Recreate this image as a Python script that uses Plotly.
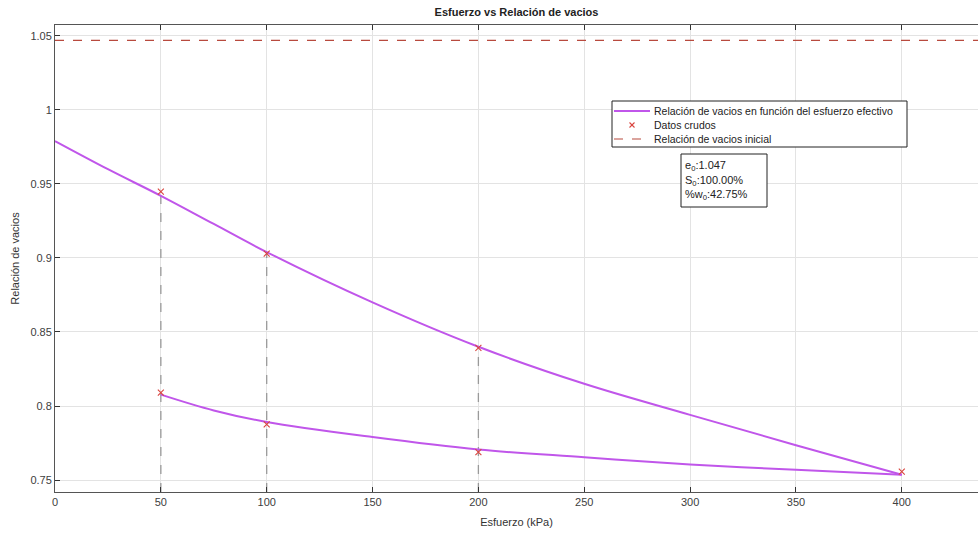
import plotly.graph_objects as go

# ---- data ----
curve_load_x = [0, 25, 50, 75, 100, 150, 200, 250, 300, 350, 400]
curve_load_y = [0.979, 0.960, 0.942, 0.923, 0.904, 0.870, 0.840, 0.815, 0.794, 0.7735, 0.7536]

curve_unload_x = [50, 75, 100, 150, 200, 250, 300, 350, 400]
curve_unload_y = [0.8077, 0.797, 0.7892, 0.779, 0.7706, 0.7654, 0.7605, 0.7569, 0.7536]

raw_x = [50, 100, 200, 400, 200, 100, 50]
raw_y = [0.9449, 0.903, 0.8393, 0.7556, 0.7688, 0.7876, 0.809]

drop_x = [50, 100, 200]
drop_top = [0.9449, 0.903, 0.8393]

e0 = 1.047
S0 = "100.00%"
w0 = "42.75%"

legend_labels = ["Relación de vacios en función del esfuerzo efectivo",
                 "Datos crudos",
                 "Relación de vacios inicial"]

y_ticks = [0.75, 0.8, 0.85, 0.9, 0.95, 1.0, 1.05]
y_ticklabels = ["0.75", "0.8", "0.85", "0.9", "0.95", "1", "1.05"]
x_ticks = [0, 50, 100, 150, 200, 250, 300, 350, 400]

x_range = [0, 436]
y_range = [0.7419, 1.0574]

PURPLE = "#C056EA"
RED = "#D9453F"
DASHRED = "#B84A3E"
FONT = "Liberation Sans, Arial, sans-serif"

W, H = 978, 535
ML, MR, MT, MB = 55, 0, 25, 43
PW, PH = W - ML - MR, H - MT - MB


def px(x):
    return (x - ML) / PW


def py(y):
    return 1 - (y - MT) / PH


fig = go.Figure()

# vertical dashed guide lines
vx, vy = [], []
for x, yt in zip(drop_x, drop_top):
    vx += [x, x, None]
    vy += [y_range[0], yt, None]
fig.add_trace(go.Scatter(x=vx, y=vy, mode="lines", showlegend=False,
                         line=dict(color="#9A9A9A", width=1.3, dash="dash"),
                         hoverinfo="skip"))

fig.add_trace(go.Scatter(x=curve_load_x, y=curve_load_y, mode="lines",
                         line=dict(color=PURPLE, width=2, shape="spline"),
                         name=legend_labels[0], showlegend=False))
fig.add_trace(go.Scatter(x=curve_unload_x, y=curve_unload_y, mode="lines",
                         line=dict(color=PURPLE, width=2, shape="spline"),
                         showlegend=False))
fig.add_trace(go.Scatter(x=raw_x, y=raw_y, mode="markers",
                         marker=dict(symbol="x-thin", size=6, color=RED,
                                     line=dict(color=RED, width=1.1)),
                         name=legend_labels[1], showlegend=False))
fig.add_trace(go.Scatter(x=[x_range[0], x_range[1]], y=[e0, e0], mode="lines",
                         line=dict(color=DASHRED, width=1.2, dash="dash"),
                         name=legend_labels[2], showlegend=False))

# ---- legend box drawn by hand (compact like the reference) ----
shapes = []
shapes.append(dict(type="rect", xref="paper", yref="paper", layer="above",
                   x0=px(612), x1=px(907), y0=py(147), y1=py(101),
                   line=dict(color="#222", width=1), fillcolor="white"))
rows = [111, 125, 139]
shapes.append(dict(type="line", xref="paper", yref="paper", layer="above",
                   x0=px(614), x1=px(650), y0=py(rows[0]), y1=py(rows[0]),
                   line=dict(color=PURPLE, width=2)))
shapes.append(dict(type="line", xref="paper", yref="paper", layer="above",
                   x0=px(614), x1=px(650), y0=py(rows[2]), y1=py(rows[2]),
                   line=dict(color=DASHRED, width=1.2, dash="dash")))
for (a, b) in [((-2.5, -2.5), (2.5, 2.5)), ((-2.5, 2.5), (2.5, -2.5))]:
    shapes.append(dict(type="line", xref="paper", yref="paper", layer="above",
                       x0=px(632 + a[0]), x1=px(632 + b[0]),
                       y0=py(rows[1] + a[1]), y1=py(rows[1] + b[1]),
                       line=dict(color=RED, width=1.1)))
# info box
shapes.append(dict(type="rect", xref="paper", yref="paper", layer="above",
                   x0=px(681), x1=px(767), y0=py(207), y1=py(154),
                   line=dict(color="#222", width=1), fillcolor="white"))

for lab, ry in zip(legend_labels, rows):
    fig.add_annotation(xref="paper", yref="paper", x=px(652), y=py(ry),
                       xanchor="left", yanchor="middle", showarrow=False,
                       text=lab, font=dict(family=FONT, size=10.5, color="#222"))

info_lines = [f"e<sub>0</sub>:{e0:.3f}", f"S<sub>0</sub>:{S0}", f"%w<sub>0</sub>:{w0}"]
for t, ry in zip(info_lines, [166, 181, 195]):
    fig.add_annotation(xref="paper", yref="paper", x=px(683), y=py(ry),
                       xanchor="left", yanchor="middle", showarrow=False,
                       text=t, font=dict(family=FONT, size=11, color="#222"))

fig.update_layout(
    width=W, height=H,
    margin=dict(l=ML, r=MR, t=MT, b=MB),
    shapes=shapes,
    showlegend=False,
    paper_bgcolor="white", plot_bgcolor="white",
    font=dict(family=FONT, size=11, color="#404040"),
    title=dict(text="<b>Esfuerzo vs Relación de vacios</b>", x=(ML + W) / 2 / W,
               xanchor="center", y=1 - 12 / H, yanchor="middle",
               font=dict(family=FONT, size=11, color="#222")),
    xaxis=dict(range=x_range, tickvals=x_ticks, showgrid=True, gridcolor="#E3E3E3",
               zeroline=False, showline=True, linecolor="#555", linewidth=1,
               mirror="ticks", ticks="inside", ticklen=5, tickcolor="#333",
               automargin=False, tickfont=dict(color="#404040"),
               title=dict(text="Esfuerzo (kPa)", standoff=11,
                          font=dict(family=FONT, size=11, color="#333"))),
    yaxis=dict(range=y_range, tickvals=y_ticks, ticktext=y_ticklabels,
               showgrid=True, gridcolor="#E3E3E3",
               zeroline=False, showline=True, linecolor="#555", linewidth=1,
               ticks="inside", ticklen=5, tickcolor="#333",
               automargin=False, tickfont=dict(color="#404040"),
               title=dict(text="Relación de vacios", standoff=8,
                          font=dict(family=FONT, size=11, color="#333"))),
)

fig.write_html("out.html", post_script="document.body.style.margin='0';",
               config={"displayModeBar": False})
